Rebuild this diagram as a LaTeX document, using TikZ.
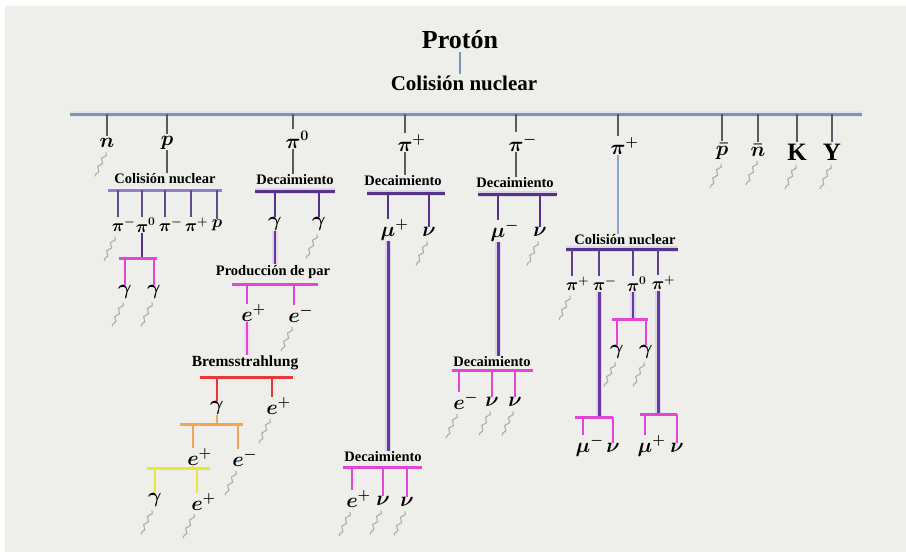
\documentclass[tikz,border=0pt]{standalone}
\usepackage{fontspec}
\setmainfont{Liberation Serif}
\usepackage{mathtools}
\usetikzlibrary{decorations.pathmorphing}

\definecolor{bg}{RGB}{238,238,234}
\definecolor{mainblue}{RGB}{128,148,182}
\definecolor{lightblue}{RGB}{140,165,212}
\definecolor{tickgray}{RGB}{90,90,100}
\definecolor{lav}{RGB}{150,125,205}
\definecolor{dpur}{RGB}{85,50,140}
\definecolor{pur}{RGB}{105,55,165}
\definecolor{mag}{RGB}{225,70,215}
\definecolor{redb}{RGB}{235,55,55}
\definecolor{orab}{RGB}{240,165,85}
\definecolor{yelb}{RGB}{232,232,60}
\definecolor{squigc}{RGB}{172,172,172}

\newcommand\Sup[2]{#1\mathrlap{^{#2}}}

\begin{document}
\begin{tikzpicture}[x=1pt,y=-1pt,
 lab/.style={font=\fontsize{21}{21}\selectfont\boldmath, inner sep=0.5pt},
 slab/.style={font=\fontsize{18}{18}\selectfont\boldmath, inner sep=0.5pt},
 ucap/.style={font=\bfseries\fontsize{25}{25}\selectfont, inner sep=0.5pt},
 big/.style={font=\bfseries\fontsize{26}{26}\selectfont, inner sep=1pt},
 proc/.style={font=\bfseries\fontsize{14.5}{14.5}\selectfont, inner sep=1pt},
 tk/.style={draw=tickgray, line width=1.2pt},
 bar/.style={line width=3pt},
 vln/.style={line width=2pt},
 glow/.style={preaction={draw=#1!35, line width=5.5pt, opacity=0.45}},
 squig/.style={draw=squigc, line width=1.1pt, decorate, decoration={snake, segment length=9pt, amplitude=1.6pt}},
]
\fill[white] (0,0) rectangle (906,552);
\fill[bg] (5,6) rectangle (906,552);
\useasboundingbox (0,0) rectangle (906,552);

% ---------- title ----------
\node[big] (proton) at (460,40) {Protón};
\node[font=\bfseries\fontsize{21}{21}\selectfont, inner sep=1pt] (col0) at (464,83) {Colisión nuclear};
\draw[mainblue, line width=1.2pt] ([yshift=-2pt]proton.south) -- (proton.south |- col0.north);
\coordinate (mL) at (70,114);
\coordinate (mR) at (862,114);
\draw[mainblue, line width=3pt, glow=mainblue] (mL) -- (mR);

% ---------- first generation ----------
\node[lab] (n1) at (107,143) {$n$};
\node[lab] (p1) at (167,143) {$p$};
\node[lab] (pz) at (293,140) {$\Sup{\pi}{0}$};
\node[lab] (pp1) at (405,143) {$\Sup{\pi}{+}$};
\node[lab] (pm1) at (516,143) {$\Sup{\pi}{-}$};
\node[lab] (pp2) at (618,146) {$\Sup{\pi}{+}$};
\node[lab] (pb) at (722,151) {$\bar{p}$};
\node[lab] (nb) at (758,150) {$\bar{n}$};
\node[ucap] (K) at (797,152) {K};
\node[ucap] (Y) at (832,152) {Y};
\foreach \q in {n1,p1,pz,pp1,pm1,pp2,pb,nb,K,Y}
  \draw[tk] (\q.north |- mL) -- ([yshift=1.5pt]\q.north);
\foreach \q in {n1,pb,nb,K,Y}
  \draw[squig] ([shift={(-1,4)}]\q.south) -- ++(-11,24);

% ---------- p branch ----------
\node[proc] (col1) at (165,179) {Colisión nuclear};
\draw[tk] (p1.south) -- (p1.south |- col1.north);
\coordinate (b1L) at (108,190); \coordinate (b1R) at (222,190);
\draw[bar, lav] (b1L) -- (b1R);
\node[slab] (a1) at (118,225) {$\Sup{\pi}{-}$};
\node[slab] (a2) at (142,225) {$\Sup{\pi}{0}$};
\node[slab] (a3) at (165,225) {$\Sup{\pi}{-}$};
\node[slab] (a4) at (191,225) {$\Sup{\pi}{+}$};
\node[slab] (a5) at (217,225) {$p$};
\foreach \q in {a1,a2,a3,a4,a5}
  \draw[vln, dpur!70!gray] (\q.north |- b1L) -- (\q.north);
\draw[squig] ([shift={(-3,4)}]a1.south) -- ++(-11,24);
\coordinate (b2L) at (119,258); \coordinate (b2R) at (157,258);
\draw[vln, dpur] (a2.south) -- (a2.south |- b2L);
\draw[bar, mag] (b2L) -- (b2R);
\node[lab] (g1) at (125,292) {$\gamma$};
\node[lab] (g2) at (154,292) {$\gamma$};
\foreach \q in {g1,g2}{
  \draw[vln, mag] (\q.north |- b2L) -- (\q.north);
  \draw[squig] ([shift={(-2,3)}]\q.south) -- ++(-11,24);
}

% ---------- pi0 branch ----------
\node[proc] (dec1) at (295,180) {Decaimiento};
\draw[tk] (pz.south) -- (pz.south |- dec1.north);
\coordinate (b3L) at (255,191); \coordinate (b3R) at (335,191);
\draw[bar, dpur, glow=dpur] (b3L) -- (b3R);
\node[lab] (c1) at (275,224) {$\gamma$};
\node[lab] (c2) at (319,224) {$\gamma$};
\foreach \q in {c1,c2}
  \draw[vln, dpur] (\q.north |- b3L) -- (\q.north);
\draw[squig] ([shift={(-2,3)}]c2.south) -- ++(-11,24);
\node[proc] (ppar) at (273,272) {Producción de par};
\draw[line width=2.5pt, pur, glow=pur] (c1.south) -- (c1.south |- ppar.north);
\coordinate (b4L) at (232,284); \coordinate (b4R) at (318,284);
\draw[bar, mag] (b4L) -- (b4R);
\node[lab] (d1) at (247,313) {$\Sup{e}{+}$};
\node[lab] (d2) at (294,314) {$\Sup{e}{-}$};
\foreach \q in {d1,d2}
  \draw[vln, mag] (\q.north |- b4L) -- (\q.north);
\draw[squig] ([shift={(-2,4)}]d2.south) -- ++(-11,24);
\node[font=\bfseries\fontsize{15.5}{15.5}\selectfont, inner sep=1pt] (brem) at (245,363) {Bremsstrahlung};
\draw[line width=2.5pt, mag, glow=mag] (d1.south) -- (d1.south |- brem.north);
\coordinate (b5L) at (200,377); \coordinate (b5R) at (293,377);
\draw[bar, redb] (b5L) -- (b5R);
\node[lab] (f1) at (217,408) {$\gamma$};
\node[lab] (f2) at (272,406) {$\Sup{e}{+}$};
\foreach \q in {f1,f2}
  \draw[vln, redb] (\q.north |- b5L) -- (\q.north);
\draw[squig] ([shift={(-2,4)}]f2.south) -- ++(-11,24);
\coordinate (b6L) at (180,424); \coordinate (b6R) at (243,424);
\draw[vln, orab] (f1.south) -- (f1.south |- b6L);
\draw[bar, orab] (b6L) -- (b6R);
\node[lab] (h1) at (193,457) {$\Sup{e}{+}$};
\node[lab] (h2) at (238,458) {$\Sup{e}{-}$};
\foreach \q in {h1,h2}
  \draw[vln, orab] (\q.north |- b6L) -- (\q.north);
\draw[squig] ([shift={(-2,4)}]h2.south) -- ++(-11,24);
\coordinate (b7L) at (147,468); \coordinate (b7R) at (210,468);
\draw[vln, yelb] (h1.south) -- (h1.south |- b7L);
\draw[bar, yelb] (b7L) -- (b7R);
\node[lab] (k1) at (155,500) {$\gamma$};
\node[lab] (k2) at (197,502) {$\Sup{e}{+}$};
\foreach \q in {k1,k2}{
  \draw[vln, yelb] (\q.north |- b7L) -- (\q.north);
  \draw[squig] ([shift={(-3,3)}]\q.south) -- ++(-11,24);
}

% ---------- pi+ branch ----------
\node[proc] (dec2) at (403,181) {Decaimiento};
\draw[tk] (pp1.south) -- (pp1.south |- dec2.north);
\coordinate (b8L) at (367,193); \coordinate (b8R) at (445,193);
\draw[bar, dpur, glow=dpur] (b8L) -- (b8R);
\node[lab] (m1) at (388,230) {$\Sup{\mu}{+}$};
\node[lab] (m2) at (429,232) {$\nu$};
\foreach \q in {m1,m2}
  \draw[vln, dpur] (\q.north |- b8L) -- (\q.north);
\draw[squig] ([shift={(-2,4)}]m2.south) -- ++(-11,24);
\node[proc] (dec3) at (383,457) {Decaimiento};
\draw[line width=3pt, pur, glow=pur] (m1.south) -- (m1.south |- dec3.north);
\coordinate (b9L) at (343,467); \coordinate (b9R) at (422,467);
\draw[bar, mag] (b9L) -- (b9R);
\node[lab] (q1) at (352,499) {$\Sup{e}{+}$};
\node[lab] (q2) at (383,501) {$\nu$};
\node[lab] (q3) at (407,502) {$\nu$};
\foreach \q in {q1,q2,q3}{
  \draw[vln, mag] (\q.north |- b9L) -- (\q.north);
  \draw[squig] ([shift={(-2,4)}]\q.south) -- ++(-11,24);
}

% ---------- pi- branch ----------
\node[proc] (dec4) at (515,183) {Decaimiento};
\draw[tk] (pm1.south) -- (pm1.south |- dec4.north);
\coordinate (b10L) at (478,194); \coordinate (b10R) at (557,194);
\draw[bar, dpur, glow=dpur] (b10L) -- (b10R);
\node[lab] (r1) at (498,231) {$\Sup{\mu}{-}$};
\node[lab] (r2) at (540,232) {$\nu$};
\foreach \q in {r1,r2}
  \draw[vln, dpur] (\q.north |- b10L) -- (\q.north);
\draw[squig] ([shift={(-2,4)}]r2.south) -- ++(-11,24);
\node[proc] (dec5) at (492,362) {Decaimiento};
\draw[line width=3pt, pur, glow=pur] (r1.south) -- (r1.south |- dec5.north);
\coordinate (b11L) at (452,370); \coordinate (b11R) at (533,370);
\draw[bar, mag] (b11L) -- (b11R);
\node[lab] (s1) at (459,401) {$\Sup{e}{-}$};
\node[lab] (s2) at (492,402) {$\nu$};
\node[lab] (s3) at (515,402) {$\nu$};
\foreach \q in {s1,s2,s3}{
  \draw[vln, mag] (\q.north |- b11L) -- (\q.north);
  \draw[squig] ([shift={(-2,4)}]\q.south) -- ++(-11,24);
}

% ---------- second pi+ branch ----------
\node[proc] (col2) at (625,240) {Colisión nuclear};
\draw[line width=2pt, lightblue] (pp2.south) -- (pp2.south |- col2.north);
\coordinate (b12L) at (566,249); \coordinate (b12R) at (678,249);
\draw[bar, dpur, glow=dpur] (b12L) -- (b12R);
\node[slab] (t1) at (572,284) {$\Sup{\pi}{+}$};
\node[slab] (t2) at (599,284) {$\Sup{\pi}{-}$};
\node[slab] (t3) at (633,284) {$\Sup{\pi}{0}$};
\node[slab] (t4) at (658,283) {$\Sup{\pi}{+}$};
\foreach \q in {t1,t2,t3,t4}
  \draw[vln, dpur!80!gray] (\q.north |- b12L) -- (\q.north);
\draw[squig] ([shift={(-2,4)}]t1.south) -- ++(-11,24);
\coordinate (b13L) at (612,319); \coordinate (b13R) at (648,319);
\draw[line width=2.5pt, pur, glow=pur] (t3.south) -- (t3.south |- b13L);
\draw[bar, mag] (b13L) -- (b13R);
\node[lab] (u1) at (617,352) {$\gamma$};
\node[lab] (u2) at (646,352) {$\gamma$};
\foreach \q in {u1,u2}{
  \draw[vln, mag] (\q.north |- b13L) -- (\q.north);
  \draw[squig] ([shift={(-2,3)}]\q.south) -- ++(-11,24);
}
\coordinate (b14L) at (575,417); \coordinate (b14R) at (613,417);
\draw[line width=3pt, pur, glow=pur] (t2.south) -- (t2.south |- b14L);
\draw[bar, mag] (b14L) -- (b14R);
\node[lab] (v1) at (583,446) {$\Sup{\mu}{-}$};
\node[lab] (v2) at (613,448) {$\nu$};
\foreach \q in {v1,v2}
  \draw[vln, mag] (\q.north |- b14L) -- (\q.north);
\coordinate (b15L) at (640,414); \coordinate (b15R) at (677,414);
\draw[line width=3pt, pur, glow=pur] (t4.south) -- (t4.south |- b15L);
\draw[bar, mag] (b15L) -- (b15R);
\node[lab] (w1) at (645,446) {$\Sup{\mu}{+}$};
\node[lab] (w2) at (677,448) {$\nu$};
\foreach \q in {w1,w2}
  \draw[vln, mag] (\q.north |- b15L) -- (\q.north);
\end{tikzpicture}
\end{document}
